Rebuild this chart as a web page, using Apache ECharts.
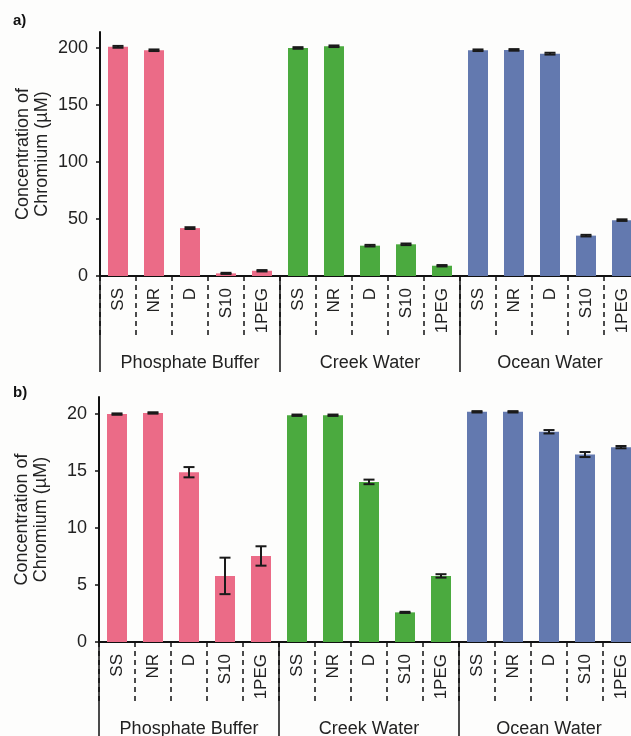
<!DOCTYPE html>
<html>
<head>
<meta charset="utf-8">
<script src="https://cdn.jsdelivr.net/npm/echarts@6/dist/echarts.min.js"></script>
<style>
    html, body { margin: 0; padding: 0; background: #fdfdfc; }
    #container { width: 631px; height: 736px; }
</style>
</head>
<body>
<div id="container"></div>
<script>
    // 数据
    let samples = ['SS', 'NR', 'D', 'S10', '1PEG'];
    let groups = ['Phosphate Buffer', 'Creek Water', 'Ocean Water'];
    let groupColors = ['#EB6B87', '#4BAA3F', '#6379AF'];

    // a) 200 µM
    let valuesA = [201, 198, 42, 2.3, 4.6, 200, 201.5, 26.6, 27.8, 9, 198, 198.3, 195, 35.4, 49];
    let errorsA = [0.8, 0.7, 0.8, 0.5, 0.6, 0.7, 0.7, 0.7, 0.7, 0.6, 0.7, 0.7, 0.8, 0.7, 0.7];
    let ticksA = [0, 50, 100, 150, 200];

    // b) 20 µM
    let valuesB = [20.0, 20.1, 14.9, 5.8, 7.55, 19.9, 19.9, 14.05, 2.6, 5.8, 20.2, 20.2, 18.45, 16.45, 17.1];
    let errorsB = [0.06, 0.06, 0.45, 1.6, 0.85, 0.06, 0.06, 0.2, 0.05, 0.15, 0.06, 0.06, 0.15, 0.22, 0.1];
    let ticksB = [0, 5, 10, 15, 20];

    let categories = [];
    groups.forEach(function () {
        samples.forEach(function (s) { categories.push(s); });
    });

    let textColor = '#222';
    let fontName = 'Liberation Sans, Arial, sans-serif';

    function barData(values) {
        return values.map(function (v, i) {
            return { value: v, itemStyle: { color: groupColors[Math.floor(i / samples.length)] } };
        });
    }

    function errData(values, errors) {
        return values.map(function (v, i) { return [i, v, errors[i]]; });
    }

    // 误差线
    function renderError(params, api) {
        let x = api.value(0);
        let v = api.value(1);
        let e = api.value(2);
        let hi = api.coord([x, v + e]);
        let lo = api.coord([x, v - e]);
        let half = 5.5;
        let style = { stroke: '#1a1a1a', lineWidth: 2 };
        return {
            type: 'group',
            children: [
                { type: 'line', shape: { x1: hi[0], y1: hi[1], x2: lo[0], y2: lo[1] }, style: style },
                { type: 'line', shape: { x1: hi[0] - half, y1: hi[1], x2: hi[0] + half, y2: hi[1] }, style: style },
                { type: 'line', shape: { x1: lo[0] - half, y1: lo[1], x2: lo[0] + half, y2: lo[1] }, style: style }
            ]
        };
    }

    function sampleAxis(gridIndex) {
        return {
            type: 'category',
            gridIndex: gridIndex,
            data: categories,
            axisLine: { show: true, lineStyle: { color: '#111', width: 2 } },
            axisTick: { show: true, interval: 0, length: 60, lineStyle: { color: '#111', width: 1.5, type: [5, 4] } },
            axisLabel: {
                interval: 0, rotate: 90, margin: 12, fontSize: 17,
                color: textColor, fontFamily: fontName
            }
        };
    }

    function groupAxis(gridIndex) {
        return {
            type: 'category',
            gridIndex: gridIndex,
            position: 'bottom',
            data: groups,
            axisLine: { show: false },
            axisTick: { show: true, interval: 0, length: 96, lineStyle: { color: '#111', width: 1.5 } },
            axisLabel: {
                interval: 0, margin: 78, fontSize: 18,
                color: textColor, fontFamily: fontName
            }
        };
    }

    function valueAxis(gridIndex, max, ticks) {
        return {
            type: 'value',
            gridIndex: gridIndex,
            min: 0,
            max: max,
            name: 'Concentration of\nChromium (µM)',
            nameLocation: 'middle',
            nameRotate: 90,
            nameGap: 48,
            nameMoveOverlap: false,
            nameTextStyle: { fontSize: 18, color: textColor, fontFamily: fontName, lineHeight: 19 },
            splitLine: { show: false },
            axisLine: { show: true, lineStyle: { color: '#111', width: 2 } },
            axisTick: { show: true, length: 4, customValues: ticks, lineStyle: { color: '#111', width: 1.5 } },
            axisLabel: { margin: 12, fontSize: 18, color: textColor, fontFamily: fontName, customValues: ticks }
        };
    }

    let dom = document.getElementById('container');
    let myChart = echarts.init(dom, null, { renderer: 'canvas' });
    let option = {
        backgroundColor: '#fdfdfc',
        animation: false,
        title: [
            { text: 'a)', left: 8, top: 8, textStyle: { fontSize: 15, fontWeight: 'bold', color: '#111', fontFamily: fontName } },
            { text: 'b)', left: 8, top: 380, textStyle: { fontSize: 15, fontWeight: 'bold', color: '#111', fontFamily: fontName } }
        ],
        grid: [
            { left: 100, top: 32, width: 540, height: 244, outerBoundsMode: 'none', containLabel: false },
            { left: 99, top: 397, width: 540, height: 245, outerBoundsMode: 'none', containLabel: false }
        ],
        xAxis: [sampleAxis(0), groupAxis(0), sampleAxis(1), groupAxis(1)],
        yAxis: [valueAxis(0, 214, ticksA), valueAxis(1, 21.5, ticksB)],
        series: [
            { type: 'bar', xAxisIndex: 0, yAxisIndex: 0, barWidth: 20, data: barData(valuesA) },
            { type: 'custom', xAxisIndex: 0, yAxisIndex: 0, renderItem: renderError, encode: { x: 0, y: 1 }, data: errData(valuesA, errorsA), z: 5 },
            { type: 'bar', xAxisIndex: 2, yAxisIndex: 1, barWidth: 20, data: barData(valuesB) },
            { type: 'custom', xAxisIndex: 2, yAxisIndex: 1, renderItem: renderError, encode: { x: 0, y: 1 }, data: errData(valuesB, errorsB), z: 5 }
        ]
    };
    myChart.setOption(option, true);
</script>
</body>
</html>
